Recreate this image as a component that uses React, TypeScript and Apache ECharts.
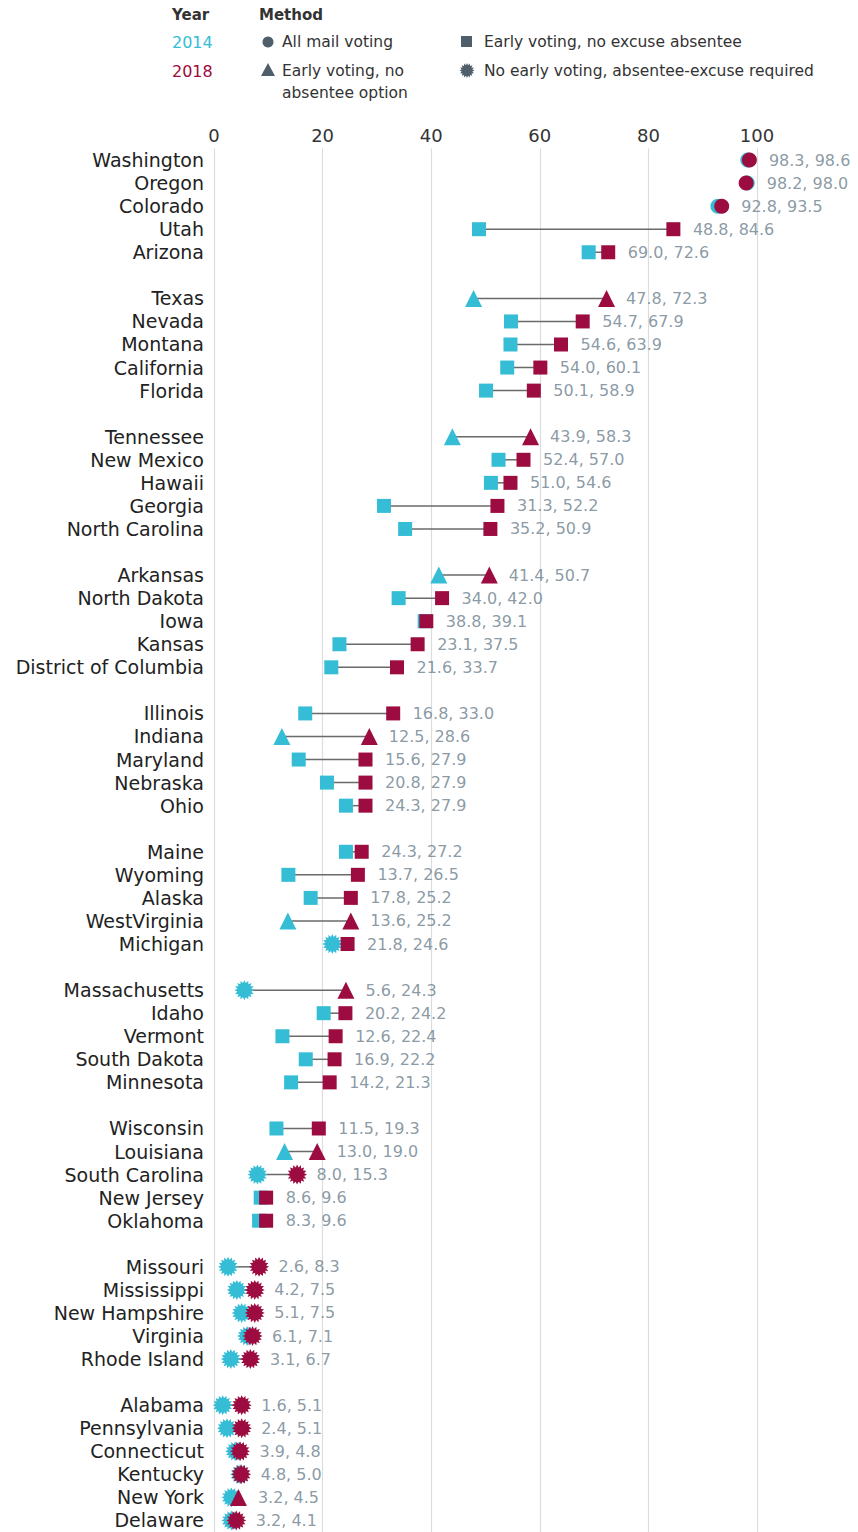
import React, { useEffect, useRef } from "react";
import * as echarts from "echarts";

// ---- Data ----
const states = [
  "Washington", "Oregon", "Colorado", "Utah", "Arizona",
  "Texas", "Nevada", "Montana", "California", "Florida",
  "Tennessee", "New Mexico", "Hawaii", "Georgia", "North Carolina",
  "Arkansas", "North Dakota", "Iowa", "Kansas", "District of Columbia",
  "Illinois", "Indiana", "Maryland", "Nebraska", "Ohio",
  "Maine", "Wyoming", "Alaska", "WestVirginia", "Michigan",
  "Massachusetts", "Idaho", "Vermont", "South Dakota", "Minnesota",
  "Wisconsin", "Louisiana", "South Carolina", "New Jersey", "Oklahoma",
  "Missouri", "Mississippi", "New Hampshire", "Virginia", "Rhode Island",
  "Alabama", "Pennsylvania", "Connecticut", "Kentucky", "New York", "Delaware",
];

const v2014 = [
  98.3, 98.2, 92.8, 48.8, 69.0,
  47.8, 54.7, 54.6, 54.0, 50.1,
  43.9, 52.4, 51.0, 31.3, 35.2,
  41.4, 34.0, 38.8, 23.1, 21.6,
  16.8, 12.5, 15.6, 20.8, 24.3,
  24.3, 13.7, 17.8, 13.6, 21.8,
  5.6, 20.2, 12.6, 16.9, 14.2,
  11.5, 13.0, 8.0, 8.6, 8.3,
  2.6, 4.2, 5.1, 6.1, 3.1,
  1.6, 2.4, 3.9, 4.8, 3.2, 3.2,
];

const v2018 = [
  98.6, 98.0, 93.5, 84.6, 72.6,
  72.3, 67.9, 63.9, 60.1, 58.9,
  58.3, 57.0, 54.6, 52.2, 50.9,
  50.7, 42.0, 39.1, 37.5, 33.7,
  33.0, 28.6, 27.9, 27.9, 27.9,
  27.2, 26.5, 25.2, 25.2, 24.6,
  24.3, 24.2, 22.4, 22.2, 21.3,
  19.3, 19.0, 15.3, 9.6, 9.6,
  8.3, 7.5, 7.5, 7.1, 6.7,
  5.1, 5.1, 4.8, 5.0, 4.5, 4.1,
];

// M = all mail voting, E = early voting + no excuse absentee,
// T = early voting, no absentee option, N = no early voting, excuse required
const m2014 = [
  "M", "M", "M", "E", "E",
  "T", "E", "E", "E", "E",
  "T", "E", "E", "E", "E",
  "T", "E", "E", "E", "E",
  "E", "T", "E", "E", "E",
  "E", "E", "E", "T", "N",
  "N", "E", "E", "E", "E",
  "E", "T", "N", "E", "E",
  "N", "N", "N", "N", "N",
  "N", "N", "N", "N", "N", "N",
];

const m2018 = [
  "M", "M", "M", "E", "E",
  "T", "E", "E", "E", "E",
  "T", "E", "E", "E", "E",
  "T", "E", "E", "E", "E",
  "E", "T", "E", "E", "E",
  "E", "E", "E", "T", "E",
  "T", "E", "E", "E", "E",
  "E", "T", "N", "E", "E",
  "N", "N", "N", "N", "N",
  "N", "N", "N", "N", "T", "N",
];

const groupSizes = [5, 5, 5, 5, 5, 5, 5, 5, 5, 6];
const xTicks = [0, 20, 40, 60, 80, 100];

// ---- Styling ----
const CYAN = "#34bdd5";
const CRIMSON = "#9c0c40";
const LEGEND_MARK = "#4e5f6b";
const VALUE_GRAY = "#6c808d";
const NAME_FONT = "DejaVu Sans";

function starPath(n: number, inner: number): string {
  let d = "";
  for (let i = 0; i < n * 2; i++) {
    const a = (i * Math.PI) / n - Math.PI / 2;
    const r = i % 2 === 0 ? 50 : 50 * inner;
    const x = 50 + r * Math.cos(a);
    const y = 50 + r * Math.sin(a);
    d += (i === 0 ? "M" : "L") + x.toFixed(2) + " " + y.toFixed(2);
  }
  return d + "Z";
}
const STAR_D = starPath(16, 0.72);

const symbolOf: Record<string, string> = {
  M: "circle",
  E: "rect",
  T: "triangle",
  N: "path://" + STAR_D,
};
const sizeOf: Record<string, number> = { M: 15, E: 14, T: 17, N: 20 };

let registered = false;
function ensureShape() {
  if (registered) return;
  registered = true;
  try {
    echarts.graphic.registerShape("starburst", echarts.graphic.extendPath(STAR_D, {}) as any);
  } catch (e) {
    /* ignore */
  }
}

export default function App() {
  const ref = useRef<HTMLDivElement>(null);

  useEffect(() => {
    document.body.style.margin = "0";
    ensureShape();
    if (!ref.current) return;
    const chart = echarts.init(ref.current, undefined, { renderer: "svg" });

    // build rows with gaps between groups
    const rows: string[] = [];
    const rowOf: number[] = [];
    let k = 0;
    groupSizes.forEach((g, gi) => {
      if (gi > 0) rows.push("gap" + gi);
      for (let j = 0; j < g; j++) {
        rowOf.push(rows.length);
        rows.push(states[k]);
        k++;
      }
    });

    const connectors = states.map((s, i) => [rowOf[i], v2014[i], v2018[i]]);
    const pts14 = states.map((s, i) => ({
      value: [v2014[i], rowOf[i]],
      symbol: symbolOf[m2014[i]],
      symbolSize: sizeOf[m2014[i]],
    }));
    const pts18 = states.map((s, i) => ({
      value: [v2018[i], rowOf[i]],
      symbol: symbolOf[m2018[i]],
      symbolSize: sizeOf[m2018[i]],
    }));
    const labels = states.map((s, i) => ({
      name: v2014[i].toFixed(1) + ", " + v2018[i].toFixed(1),
      value: [Math.max(v2014[i], v2018[i]), rowOf[i]],
    }));

    const legendText = (x: number, y: number, text: string, extra: any = {}) => ({
      type: "text",
      x,
      y,
      style: {
        text,
        fontFamily: NAME_FONT,
        fontSize: 15.5,
        fill: "#333",
        textVerticalAlign: "middle",
        verticalAlign: "middle",
        ...extra,
      },
    });

    chart.setOption({
      animation: false,
      grid: { left: 214, top: 148.5, width: 543, height: 1385 },
      xAxis: {
        type: "value",
        position: "top",
        min: 0,
        max: 100,
        interval: 20,
        axisLine: { show: false },
        axisTick: { show: false },
        axisLabel: {
          fontFamily: NAME_FONT,
          fontSize: 18,
          color: "#333",
          margin: 4,
          formatter: (v: number) => (xTicks.includes(v) ? String(v) : ""),
        },
        splitLine: { show: true, lineStyle: { color: "#dcdcdc", width: 1.2 } },
      },
      yAxis: {
        type: "category",
        inverse: true,
        data: rows,
        axisLine: { show: false },
        axisTick: { show: false },
        splitLine: { show: false },
        axisLabel: {
          interval: 0,
          fontFamily: NAME_FONT,
          fontSize: 19,
          color: "#222",
          margin: 10,
          formatter: (v: string) => (v.startsWith("gap") ? "" : v),
        },
      },
      series: [
        {
          type: "custom",
          z: 1,
          data: connectors,
          encode: { x: [1, 2], y: 0 },
          renderItem: (params: any, api: any) => {
            const row = api.value(0);
            const a = api.coord([api.value(1), row]);
            const b = api.coord([api.value(2), row]);
            return {
              type: "line",
              shape: { x1: a[0], y1: a[1], x2: b[0], y2: b[1] },
              style: { stroke: "#6a6a6a", lineWidth: 1.5 },
            };
          },
        },
        {
          type: "scatter",
          name: "2014",
          z: 2,
          data: pts14,
          itemStyle: { color: CYAN, opacity: 1 },
        },
        {
          type: "scatter",
          name: "2018",
          z: 3,
          data: pts18,
          itemStyle: { color: CRIMSON, opacity: 1 },
        },
        {
          type: "scatter",
          name: "labels",
          z: 4,
          symbol: "circle",
          symbolSize: 1,
          data: labels,
          itemStyle: { color: "rgba(0,0,0,0)" },
          label: {
            show: true,
            position: "right",
            distance: 19,
            formatter: "{b}",
            fontFamily: NAME_FONT,
            fontSize: 16,
            color: VALUE_GRAY,
          },
          silent: true,
        },
      ],
      graphic: [
        legendText(172, 15, "Year", { fontWeight: "bold", fontSize: 15 }),
        legendText(259, 15, "Method", { fontWeight: "bold", fontSize: 15 }),
        legendText(172, 42, "2014", { fill: CYAN, fontSize: 16 }),
        legendText(172, 71, "2018", { fill: CRIMSON, fontSize: 16 }),
        { type: "circle", shape: { cx: 268, cy: 42, r: 5.5 }, style: { fill: LEGEND_MARK } },
        legendText(282, 42, "All mail voting"),
        { type: "rect", shape: { x: 461, y: 36, width: 11, height: 11 }, style: { fill: LEGEND_MARK } },
        legendText(484, 42, "Early voting, no excuse absentee"),
        {
          type: "polygon",
          shape: { points: [[268, 63], [275, 76], [261, 76]] },
          style: { fill: LEGEND_MARK },
        },
        legendText(282, 71, "Early voting, no"),
        legendText(282, 93, "absentee option"),
        {
          type: "starburst",
          x: 459.5,
          y: 63,
          scaleX: 0.15,
          scaleY: 0.15,
          style: { fill: LEGEND_MARK },
        },
        legendText(484, 71, "No early voting, absentee-excuse required"),
      ],
    });

    return () => chart.dispose();
  }, []);

  return <div ref={ref} style={{ width: 858, height: 1532 }} />;
}
